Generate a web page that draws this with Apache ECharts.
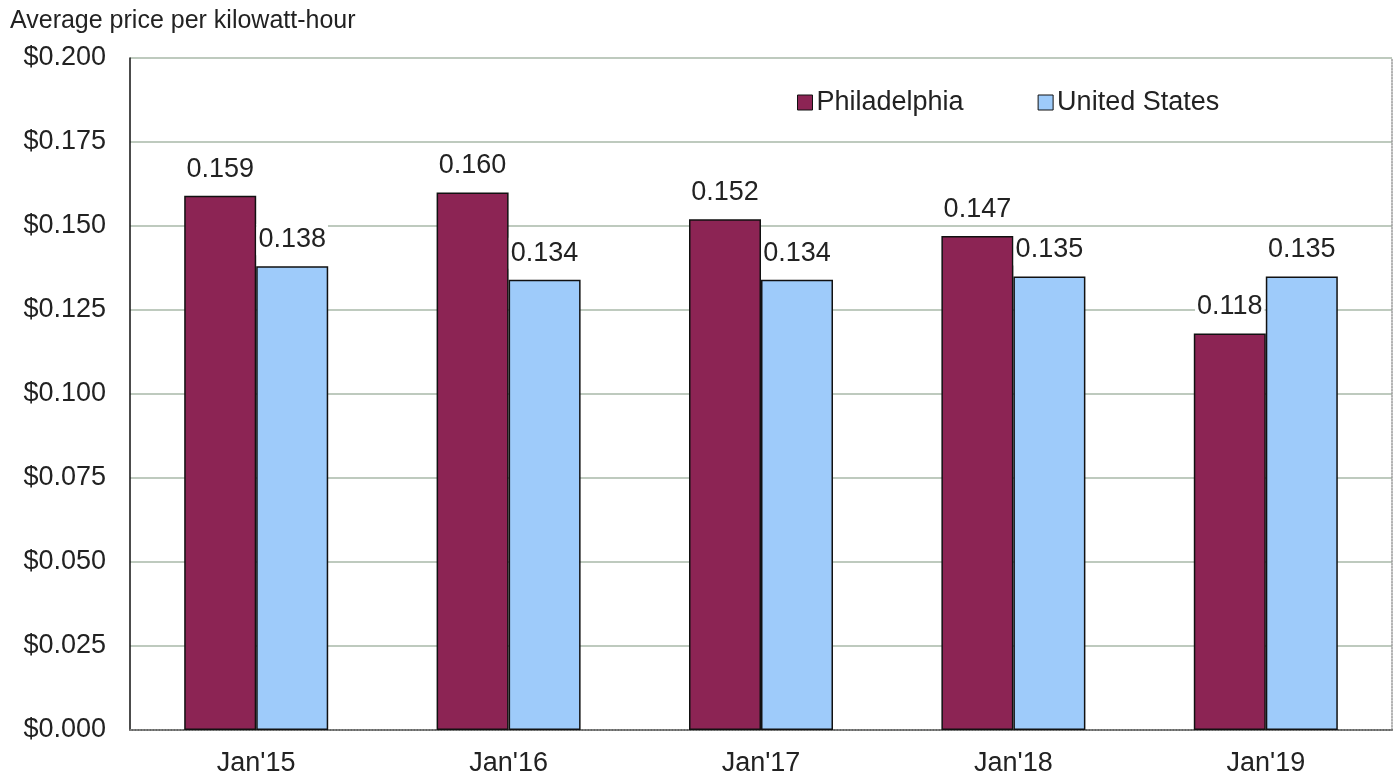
<!DOCTYPE html>
<html>
<head>
<meta charset="utf-8">
<script src="https://cdn.jsdelivr.net/npm/echarts@6/dist/echarts.min.js"></script>
<style>
  html, body { margin: 0; padding: 0; background: #fff; }
  #chart { width: 1400px; height: 778px; }
</style>
</head>
<body>
<div id="chart"></div>
<script>
// average electricity price, January of each year
var categories = ["Jan'15", "Jan'16", "Jan'17", "Jan'18", "Jan'19"];
var philadelphia = [0.159, 0.160, 0.152, 0.147, 0.118];
var unitedStates = [0.138, 0.134, 0.134, 0.135, 0.135];
var yTicks = { min: 0, max: 0.2, interval: 0.025 };

var FONT = 'Liberation Sans, Arial, sans-serif';
var TEXT = '#222';

function barLabel() {
  return {
    show: true, position: 'top', distance: 11,
    color: TEXT, fontFamily: FONT, fontSize: 27,
    backgroundColor: '#fff', padding: [2, 2, 2, 2],
    formatter: function(p) { return p.value.toFixed(3); }
  };
}

var chart = echarts.init(document.getElementById('chart'));
chart.setOption({
  animation: false,
  backgroundColor: '#fff',
  textStyle: { fontFamily: FONT },
  grid: { left: 130, right: 8, top: 58, bottom: 48 },
  legend: {
    data: ['Philadelphia', 'United States'],
    left: 797, top: 89, padding: 0,
    icon: 'rect', itemWidth: 15, itemHeight: 15, itemGap: 74,
    itemStyle: { borderColor: '#111', borderWidth: 1 },
    textStyle: { color: TEXT, fontSize: 27, fontFamily: FONT, padding: [0, 0, 0, -1] }
  },
  xAxis: [{
    type: 'category', data: categories,
    axisLine: { lineStyle: { color: '#111', width: 1.5 } },
    axisTick: { show: false },
    axisLabel: { color: TEXT, fontSize: 27, fontFamily: FONT, margin: 20 }
  }, {
    type: 'category', data: categories, position: 'top',
    axisLine: { lineStyle: { color: '#999', type: 'dotted', width: 1.5 } },
    axisTick: { show: false }, axisLabel: { show: false }
  }],
  yAxis: [{
    type: 'value', min: yTicks.min, max: yTicks.max, interval: yTicks.interval,
    name: 'Average price per kilowatt-hour',
    nameLocation: 'end', nameGap: 24,
    nameTextStyle: { color: TEXT, fontSize: 25, fontFamily: FONT, align: 'left', padding: [0, 0, 0, -120] },
    axisLine: { show: true, lineStyle: { color: '#111', width: 1.5 } },
    axisTick: { show: false },
    axisLabel: {
      color: TEXT, fontSize: 27, fontFamily: FONT, margin: 24,
      formatter: function(v) { return '$' + v.toFixed(3); }
    },
    splitLine: { lineStyle: { color: '#a9b9a9', width: 1.5 } }
  }, {
    type: 'value', min: yTicks.min, max: yTicks.max, interval: yTicks.interval,
    position: 'right',
    axisLine: { show: true, lineStyle: { color: '#999', type: 'dotted', width: 1.5 } },
    axisTick: { show: false }, axisLabel: { show: false }, splitLine: { show: false }
  }],
  series: [{
    name: 'Philadelphia', type: 'bar', data: philadelphia,
    barWidth: 72, barGap: '0%',
    itemStyle: { color: '#8c2454', borderColor: '#111', borderWidth: 1.5 },
    label: barLabel()
  }, {
    name: 'United States', type: 'bar', data: unitedStates,
    barWidth: 72,
    itemStyle: { color: '#9ecbfa', borderColor: '#111', borderWidth: 1.5 },
    label: barLabel()
  }]
});
</script>
</body>
</html>
